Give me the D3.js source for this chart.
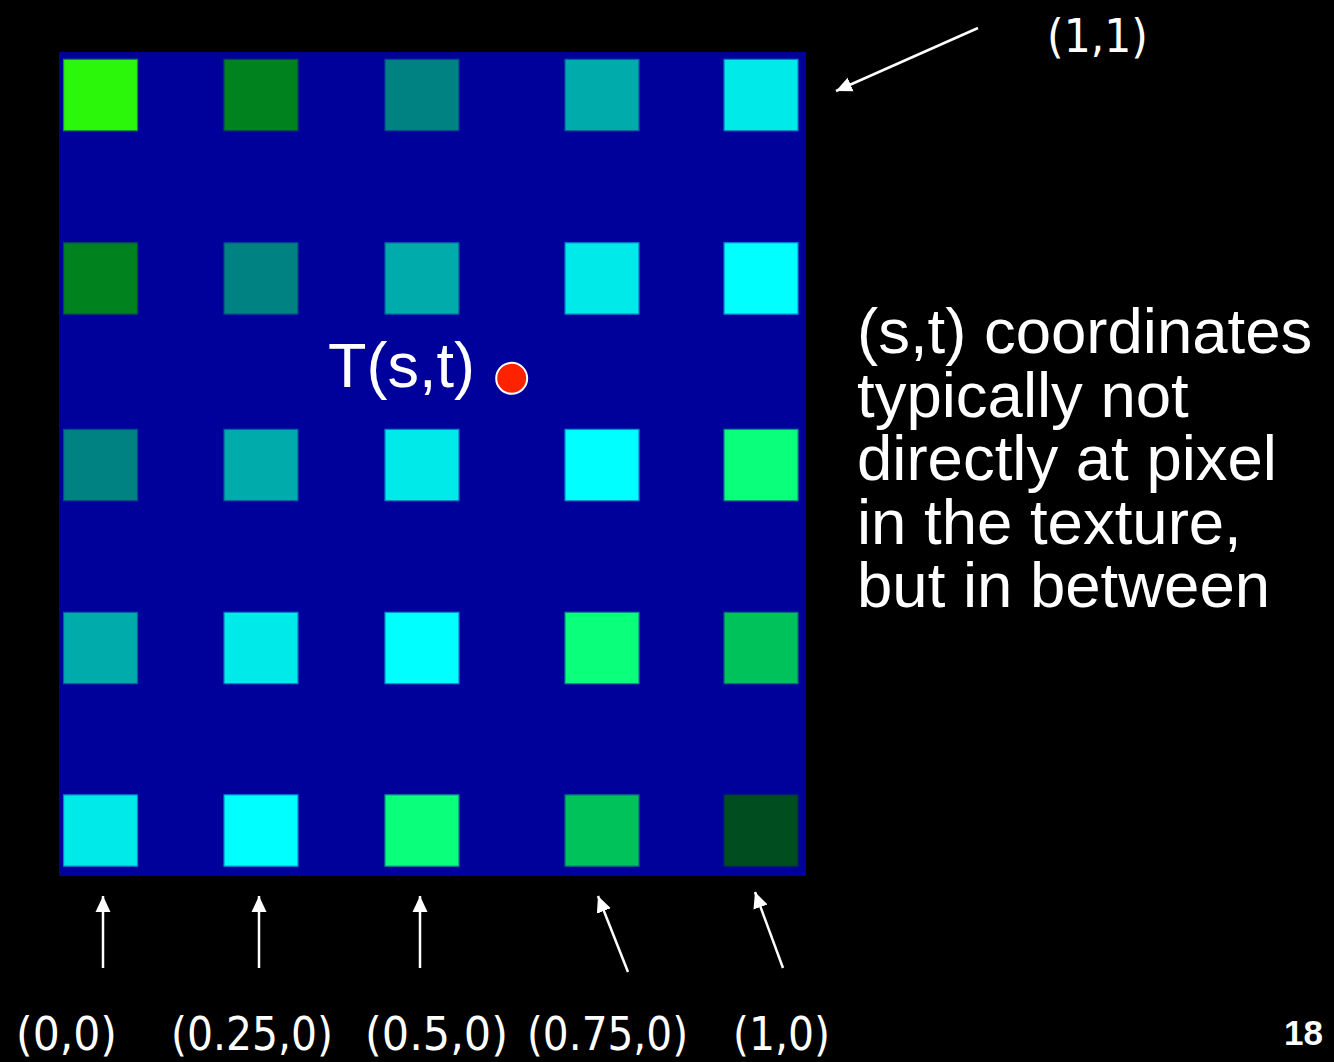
<!DOCTYPE html>
<meta charset="utf-8">
<style>
body { margin: 0; background: #000; }
svg { display: block; background: #000; }
.note { font-family: "Liberation Sans", Arial, sans-serif; fill: #fff; }
.coord { font-family: "DejaVu Sans Condensed", "DejaVu Sans", Verdana, sans-serif; fill: #fff; }
.arrow { stroke: #fff; stroke-width: 2.5; fill: none; }
</style>
<svg width="1334" height="1062"></svg>
<script src="https://d3js.org/d3.v7.min.js"></script>
<script>

// texel centres in texture space (s across, t up), rows listed top to bottom
var texelS = [0.0556, 0.2704, 0.4859, 0.7269, 0.9398];
var texelT = [0.9478, 0.7252, 0.4988, 0.2767, 0.0552];
var texelColors = [
  ["#2af70a", "#00821e", "#008282", "#00abab", "#00eaea"],
  ["#00821e", "#008282", "#00abab", "#00eaea", "#00ffff"],
  ["#008282", "#00abab", "#00eaea", "#00ffff", "#0aff7a"],
  ["#00abab", "#00eaea", "#00ffff", "#0aff7a", "#00c25a"],
  ["#00eaea", "#00ffff", "#0aff7a", "#00c25a", "#004e20"]
];

// the sample point T(s,t)
var sampleS = 0.606, sampleT = 0.604;
var sampleLabel = "T(s,t)";

var bottomLabels = ["(0,0)", "(0.25,0)", "(0.5,0)", "(0.75,0)", "(1,0)"];
var cornerLabel = "(1,1)";
var noteLines = ["(s,t) coordinates", "typically not", "directly at pixel", "in the texture,", "but in between"];
var slideNumber = "18";

var svg = d3.select("svg");

var x = d3.scaleLinear().domain([0, 1]).range([59, 806]);
var y = d3.scaleLinear().domain([0, 1]).range([876, 52]);
var texW = 0.0990, texH = 0.0866;

svg.append("rect")
  .attr("x", x(0)).attr("y", y(1))
  .attr("width", x(1) - x(0)).attr("height", y(0) - y(1))
  .attr("fill", "#00009a");

var cells = [];
texelColors.forEach(function(row, r) {
  row.forEach(function(c, k) {
    cells.push({s: texelS[k], t: texelT[r], color: c});
  });
});

svg.append("g").selectAll("rect")
  .data(cells)
  .enter().append("rect")
  .attr("x", function(d) { return x(d.s - texW / 2); })
  .attr("y", function(d) { return y(d.t + texH / 2); })
  .attr("width", function(d) { return x(d.s + texW / 2) - x(d.s - texW / 2); })
  .attr("height", function(d) { return y(d.t - texH / 2) - y(d.t + texH / 2); })
  .attr("fill", function(d) { return d.color; })
  .attr("stroke", function(d) { return d3.interpolateRgb(d.color, "#00009a")(0.45); })
  .attr("stroke-width", 1.2);

// sample point and its label
svg.append("text")
  .attr("class", "note")
  .attr("x", 328).attr("y", 387)
  .attr("font-size", 63)
  .text(sampleLabel);

svg.append("circle")
  .attr("cx", x(sampleS)).attr("cy", y(sampleT))
  .attr("r", 15.5)
  .attr("fill", "#ff2200")
  .attr("stroke", "#fff")
  .attr("stroke-width", 2);

// arrows
svg.append("defs").append("marker")
  .attr("id", "head")
  .attr("markerUnits", "userSpaceOnUse")
  .attr("viewBox", "0 0 16 16")
  .attr("refX", 16).attr("refY", 8)
  .attr("markerWidth", 16).attr("markerHeight", 16)
  .attr("orient", "auto")
  .append("path")
  .attr("d", "M0,0.5L16,8L0,15.5Z")
  .attr("fill", "#fff");

var arrows = [
  {x1: 103, y1: 968, x2: 103, y2: 896},
  {x1: 259, y1: 968, x2: 259, y2: 896},
  {x1: 420, y1: 968, x2: 420, y2: 896},
  {x1: 628, y1: 972, x2: 598, y2: 896},
  {x1: 783, y1: 968, x2: 755, y2: 892},
  {x1: 978, y1: 28, x2: 836, y2: 91}
];

svg.append("g").selectAll("line")
  .data(arrows)
  .enter().append("line")
  .attr("class", "arrow")
  .attr("x1", function(d) { return d.x1; })
  .attr("y1", function(d) { return d.y1; })
  .attr("x2", function(d) { return d.x2; })
  .attr("y2", function(d) { return d.y2; })
  .attr("marker-end", "url(#head)");

// coordinate labels
var labelCentres = [66.5, 252, 436.5, 607.5, 781.5];
var labelWidths = [101, 162, 143, 161, 97];

svg.append("g").selectAll("text")
  .data(bottomLabels)
  .enter().append("text")
  .attr("class", "coord")
  .attr("x", function(d, i) { return labelCentres[i] - labelWidths[i] / 2; })
  .attr("y", 1050)
  .attr("font-size", 46)
  .attr("textLength", function(d, i) { return labelWidths[i]; })
  .attr("lengthAdjust", "spacingAndGlyphs")
  .text(function(d) { return d; });

svg.append("text")
  .attr("class", "coord")
  .attr("x", 1047).attr("y", 52)
  .attr("font-size", 46)
  .attr("textLength", 101)
  .attr("lengthAdjust", "spacingAndGlyphs")
  .text(cornerLabel);

// side note
svg.append("g").selectAll("text")
  .data(noteLines)
  .enter().append("text")
  .attr("class", "note")
  .attr("x", 857)
  .attr("y", function(d, i) { return 353 + i * 63.5; })
  .attr("font-size", 63.5)
  .text(function(d) { return d; });

svg.append("text")
  .attr("class", "note")
  .attr("x", 1323).attr("y", 1045)
  .attr("text-anchor", "end")
  .attr("font-size", 35)
  .attr("font-weight", "bold")
  .text(slideNumber);

</script>
